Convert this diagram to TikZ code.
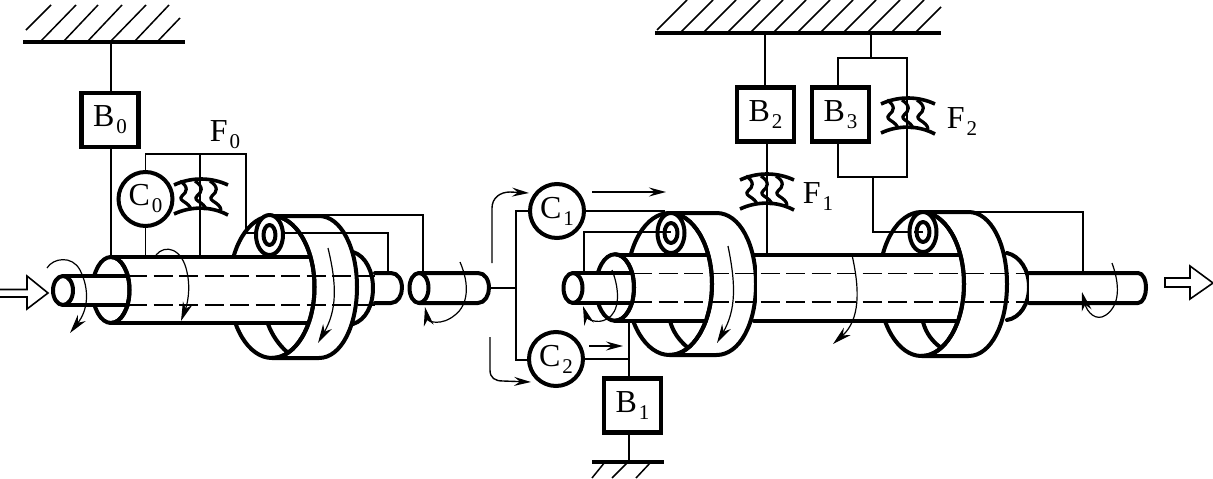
\documentclass[tikz,border=0pt]{standalone}
\usepackage{fontspec}
\setmainfont{Liberation Serif}
\usetikzlibrary{arrows.meta}
\newcommand{\lbl}[2]{\fontsize{32}{33}\selectfont #1\raisebox{-7pt}{\kern2pt\fontsize{21}{21}\selectfont #2}}
\tikzset{
 thick line/.style={line width=4pt,line cap=round,line join=round},
 thin line/.style={line width=1.5pt},
 hatch line/.style={line width=1.5pt},
 ground line/.style={line width=4pt},
 dash line/.style={line width=1.3pt,dash pattern=on 19pt off 6.5pt},
 rot arrow/.style={line width=1.2pt,-{Stealth[length=19pt,width=10pt,inset=6pt]}},
 flow arrow/.style={line width=1.4pt,-{Stealth[length=17pt,width=9pt,inset=6pt]}},
 unit box/.style={draw,line width=4.4pt,fill=white,minimum width=57pt,minimum height=54pt,inner sep=0pt},
 unit circle/.style={draw,circle,line width=4pt,fill=white,minimum size=54pt,inner sep=0pt},
 unit label/.style={inner sep=0pt},
 hollow arrow/.style={line width=1.6pt,fill=white,line join=miter},
 clutch/.pic={
  \draw[line width=3.6pt] (-27,-11) .. controls (-10,-19) and (10,-19) .. (27,-11);
  \draw[line width=3.6pt] (-27,18) .. controls (-10,10) and (10,10) .. (27,19);
  \foreach \d in {-17,-2,13}{
   \draw[line width=3.2pt] (\d-4,-15) .. controls (\d+5,-9) and (\d+3,-4) .. (\d-2,0)
     .. controls (\d-7,5) and (\d+6,6) .. (\d+7,14);
  }
 }
}
\newcommand{\righthalf}[4]{% cx cy rx ry
 \draw[thick line] (#1,#2-#4) .. controls (#1+0.552*#3,#2-#4) and (#1+#3,#2-0.552*#4) .. (#1+#3,#2)
   .. controls (#1+#3,#2+0.552*#4) and (#1+0.552*#3,#2+#4) .. (#1,#2+#4);
}
\newcommand{\backdrum}[5]{% cx cy rx ry outer-right-x
 \fill[white] (#1,#2-#4) -- (#1+47,#2-#4) .. controls (#5-16,#2-#4) and (#5,#2-#4*0.55) .. (#5,#2)
   .. controls (#5,#2+#4*0.55) and (#5-16,#2+#4) .. (#1+47,#2+#4) -- (#1,#2+#4) -- cycle;
 \draw[thick line] (#1,#2-#4) -- (#1+47,#2-#4) .. controls (#5-16,#2-#4) and (#5,#2-#4*0.55) .. (#5,#2)
   .. controls (#5,#2+#4*0.55) and (#5-16,#2+#4) .. (#1+47,#2+#4) -- (#1,#2+#4);
 \draw[thick line,fill=white] (#1,#2) ellipse [x radius=#3,y radius=#4];
}
\newcommand{\pinion}[3]{% cx cy inner
 \draw[thick line,fill=white] (#1,#2) ellipse [x radius=13.5,y radius=20];
 \draw[thick line] (#1,#2) ellipse [x radius=#3,y radius=10];
}
\begin{document}
\begin{tikzpicture}[x=1pt,y=-1pt]
\useasboundingbox (0,0) rectangle (1213,479);
% ---------- grounds
\coordinate (gnd0) at (111,42);
\coordinate (gnd1) at (629,462);
\coordinate (gnd2) at (765,33);
\coordinate (gnd3) at (871,33);
\draw[ground line] (23,42) -- (185,42);
\foreach \a/\b/\c/\d in {26/30/51/5,40/42/76/5,63/42/98/5,87/42/122/5,110/42/146/5,134/42/169/5,157/42/180/18}
 \draw[hatch line] (\a,\b) -- (\c,\d);
\draw[ground line] (655,33) -- (941,33);
\draw[hatch line] (657,30) -- (687,0);
\foreach \a in {680,703,727,750,773,797,820,843,867,891}
 \draw[hatch line] (\a,33) -- (\a+33,0);
\draw[hatch line] (915,33) -- (941,7);
\draw[ground line] (592,462) -- (664,462);
\foreach \a/\c in {592/605,612/628,636/651}
 \draw[hatch line] (\a,478) -- (\c,462);

% ---------- left gear set
\draw[thick line,fill=white] (353,252) .. controls (366,256) and (373,272) .. (373,288) .. controls (373,305) and (366,320) .. (353,324);
\backdrum{272}{287}{42.5}{71}{357}
\draw[thick line] (268,324) .. controls (272,335) and (279,345) .. (287,352);
\fill[white] (111,257) rectangle (307,323);
\draw[thick line] (111,257) -- (309,257);
\draw[thick line] (111,323) -- (307,323);
\righthalf{272}{287}{42.5}{71}
\draw[dash line] (128,276) -- (375,276);
\draw[dash line] (128,305) -- (375,305);
\draw[thick line,fill=white] (111,290) ellipse [x radius=18.5,y radius=33];
\draw[thick line,fill=white] (375,273) -- (391,273) .. controls (398,273) and (402,280) .. (402,288) .. controls (402,295) and (398,303) .. (391,303) -- (375,303);
\fill[white] (63,276) rectangle (126,305);
\draw[thick line] (63,276) -- (128,276);
\draw[thick line] (63,305) -- (128,305);
\draw[thick line,fill=white] (63,290.5) ellipse [x radius=10,y radius=14.5];
\righthalf{111}{290}{18.5}{33}
\node[unit box] (B0) at (110,120) {\lbl{B}{0}};
\node[unit circle] (C0) at (145.5,199) {\lbl{C}{0}};
\pic at (201,196) {clutch};
\node[unit label] (F0) at (225,135) {\lbl{F}{0}};
\coordinate (s0a) at (111,257);
\coordinate (s0b) at (145.5,257);
\coordinate (s0c) at (200,257);
\coordinate (c0t) at (145.5,154);
\coordinate (c0m) at (200,154);
\coordinate (c0r) at (246,154);
\coordinate (c0d) at (246,233);
\coordinate (p0r) at (388,233);
\coordinate (p0s) at (388,272);
\coordinate (d0t) at (320,215);
\coordinate (d0r) at (423,215);
\coordinate (m0) at (423,272);
\draw[thin line] (gnd0) -- (B0.north -| gnd0);
\draw[thin line] (B0.south -| s0a) -- (s0a);
\draw[thin line] (C0.south) -- (s0b);
\draw[thin line] (C0.north) -- (c0t) -- (c0r) -- (c0d) -- (p0r) -- (p0s);
\draw[thin line] (c0m) -- (s0c);
\draw[thin line] (d0t) -- (d0r) -- (m0);
\pinion{269.5}{235}{6}
\draw[rot arrow] (47,268) .. controls (53,258) and (72,255) .. (80,270) .. controls (90,290) and (88,310) .. (70,333);
\draw[rot arrow] (156,255) .. controls (165,244) and (182,248) .. (187,272) .. controls (191,290) and (187,305) .. (181,321);
\draw[rot arrow] (328,248) .. controls (337,285) and (337,310) .. (318,343);

% ---------- middle shaft
\draw[thick line,fill=white] (419,273) -- (478,273) .. controls (485,273) and (489,280) .. (489,288) .. controls (489,295) and (485,303) .. (478,303) -- (419,303);
\draw[thick line,fill=white] (419,288) ellipse [x radius=9.5,y radius=15];
\draw[rot arrow] (460,262) .. controls (470,285) and (468,305) .. (455,315) .. controls (442,326) and (428,322) .. (425,307);
\node[unit circle] (C1) at (557,211) {\lbl{C}{1}};
\node[unit circle] (C2) at (556,359) {\lbl{C}{2}};
\coordinate (mo) at (489,288);
\coordinate (mj) at (516,288);
\coordinate (mt) at (516,211);
\coordinate (mb) at (516,360);
\draw[thin line] (mo) -- (mj);
\draw[thin line] (mt -| C1.west) -- (mt) -- (mb) -- (mb -| C2.west);
\draw[flow arrow] (492,263) -- (492,208) .. controls (492,198) and (500,192) .. (510,192) -- (529,193);
\draw[flow arrow] (490,337) -- (490,370) .. controls (490,378) and (495,381) .. (503,381) -- (531,382);
\draw[flow arrow] (592,192) -- (666,192);
\draw[flow arrow] (589,346) -- (623,346);

% ---------- second gear set
\backdrum{669.5}{284}{42.5}{71}{756}
\draw[thick line] (670,321) .. controls (673,332) and (679,340) .. (687,347);
\fill[white] (615,254.5) rectangle (705,321);
\draw[thick line] (615,254.5) -- (707,254.5);
\draw[thick line] (615,321) -- (706,321);
\righthalf{669.5}{284}{42.5}{71}
% ---------- third gear set
\draw[thick line,fill=white] (1007,253) .. controls (1020,256) and (1029,270) .. (1029,287) .. controls (1029,304) and (1020,318) .. (1007,320);
\backdrum{921.5}{284}{42.5}{72}{1007}
\draw[thick line] (923,322) .. controls (926,333) and (932,341) .. (940,347);
\fill[white] (757,254.5) rectangle (957,321);
\draw[thick line] (754,254.5) -- (960,254.5);
\draw[thick line] (754,321) -- (958,321);
\righthalf{921.5}{284}{42.5}{72}
\draw[dash line] (633,273.5) -- (1030,273.5);
\draw[dash line] (633,302) -- (1030,302);
\draw[thick line,fill=white] (615,287.5) ellipse [x radius=19,y radius=33.25];
\fill[white] (573,273) rectangle (631,303);
\draw[thick line] (573,273) -- (632,273);
\draw[thick line] (573,303) -- (632,303);
\draw[thick line,fill=white] (573,288) ellipse [x radius=9.5,y radius=15];
\righthalf{615}{287.5}{19}{33.25}
% output shaft
\draw[thick line,fill=white] (1029,273) -- (1138,273) .. controls (1143,273) and (1146,280) .. (1146,288) .. controls (1146,295) and (1143,303) .. (1138,303) -- (1029,303);
\draw[rot arrow] (612,270) .. controls (620,290) and (620,312) .. (607,319) .. controls (596,325) and (587,318) .. (583,306);
\draw[rot arrow] (728,246) .. controls (736,285) and (736,310) .. (717,343);
\draw[rot arrow] (852,255) .. controls (860,290) and (860,320) .. (833,344);
\draw[rot arrow] (1112,263) .. controls (1120,285) and (1120,305) .. (1106,315) .. controls (1096,322) and (1087,312) .. (1082,292);

% ---------- boxes and connectors, right
\node[unit box] (B1) at (632.5,405.5) {\lbl{B}{1}};
\node[unit box] (B2) at (765.5,114.5) {\lbl{B}{2}};
\node[unit box] (B3) at (840.5,114.5) {\lbl{B}{3}};
\coordinate (b1x) at (629,321);
\coordinate (c2r) at (629,359);
\draw[thin line] (b1x) -- (b1x |- B1.north);
\draw[thin line] (C2.east) -- (c2r);
\draw[thin line] (B1.south -| gnd1) -- (gnd1);
\coordinate (d1t) at (665,211);
\draw[thin line] (C1.east) -- (d1t);
\coordinate (p1) at (671,232);
\coordinate (p1l) at (584,232);
\coordinate (p1s) at (584,273);
\pinion{671}{233}{6.5}
\draw[thin line] (p1) -- (p1l) -- (p1s);
\coordinate (b2b) at (767,254);
\draw[thin line] (gnd2) -- (gnd2 |- B2.north);
\draw[thin line] (b2b |- B2.south) -- (b2b);
\coordinate (g3) at (871,58);
\coordinate (g3l) at (838,58);
\coordinate (g3r) at (907,58);
\coordinate (g3br) at (907,177);
\coordinate (g3bl) at (838,177);
\coordinate (g3o) at (873,177);
\coordinate (g3p) at (873,232);
\coordinate (p2) at (923,232);
\draw[thin line] (gnd3) -- (g3);
\draw[thin line] (g3l |- B3.north) -- (g3l) -- (g3r) -- (g3br) -- (g3bl) -- (g3l |- B3.south);
\draw[thin line] (g3o) -- (g3p) -- (p2);
\pinion{923}{232}{6.5}
\draw[thin line] (p2) -- +(-9,0);
\coordinate (d3t) at (968,212);
\coordinate (d3r) at (1083,212);
\coordinate (o3) at (1083,273);
\draw[thin line] (d3t) -- (d3r) -- (o3);
\pic at (767,191) {clutch};
\pic at (908,115) {clutch};
\node[unit label] (F1) at (818,197) {\lbl{F}{1}};
\node[unit label] (F2) at (962,122) {\lbl{F}{2}};

% ---------- hollow arrows
\draw[hollow arrow] (0,289.5) -- (27,289.5) -- (27,276) -- (48,293) -- (27,309) -- (27,297) -- (0,297);
\draw[hollow arrow] (1165,278) -- (1190,278) -- (1190,266) -- (1213,283) -- (1190,299) -- (1190,287) -- (1165,287) -- cycle;
\end{tikzpicture}
\end{document}
